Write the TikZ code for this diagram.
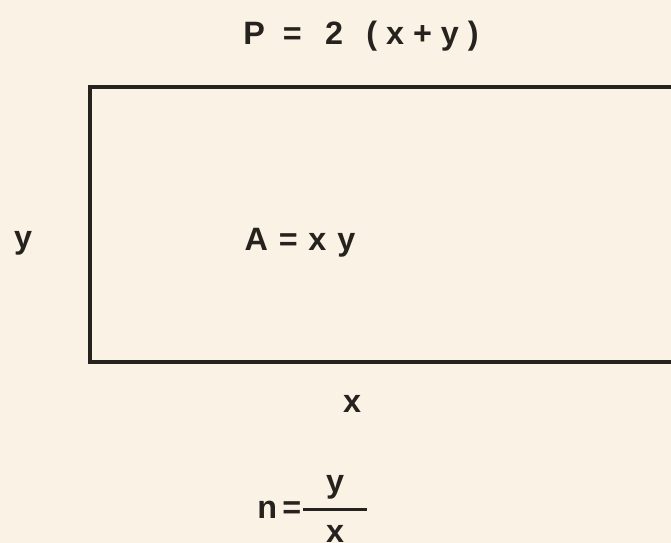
\documentclass[tikz,border=0pt]{standalone}
\usepackage{amsmath}
\usepackage{fontspec}
\setmainfont{Liberation Sans}
\usepackage{xcolor}
\definecolor{paper}{RGB}{250,242,229}
\definecolor{ink}{RGB}{38,34,30}

\tikzset{lbl/.style={text=ink, inner sep=0pt, font=\fontsize{23}{28}\selectfont\bfseries}}

\begin{document}
\begin{tikzpicture}[x=0.025cm, y=-0.025cm]
\fill[paper] (0,0) rectangle (671,543);
\useasboundingbox (0,0) rectangle (671,543);

% the rectangle runs off the right edge
\begin{scope}
\clip (0,0) rectangle (671,543);
\draw[ink, line width=2.6pt] (700,87) -- (90,87) -- (90,362) -- (700,362);
\end{scope}

\node[lbl] (perim) at (361,36) {P\;\;=\;\;\,2\;\;\,(\;x\;+\;y\;)};
\node[lbl] (side) at (23,243) {y};
\node[lbl] (area) at (300,243) {A\,\,=\,\,x\,\,y};
\node[lbl] (base) at (352,404) {x};
\node[lbl, anchor=west] (ratio) at (257,509)
  {n\,=$\genfrac{}{}{2.2pt}{0}{\makebox[1.6cm]{\fontsize{23}{28}\selectfont\bfseries y}}{\mbox{\fontsize{23}{28}\selectfont\bfseries x}}$};
\end{tikzpicture}
\end{document}
